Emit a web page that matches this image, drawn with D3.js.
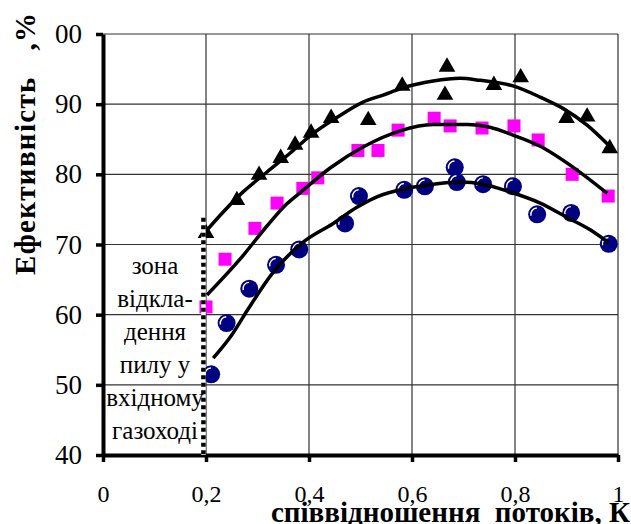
<!DOCTYPE html>
<html>
<head>
<meta charset="utf-8">
<script src="https://cdn.jsdelivr.net/npm/d3@7"></script>
</head>
<body style="margin:0">
<script>
var FONT = "Liberation Serif";

// ticks
var xTicks = [0, 0.2, 0.4, 0.6, 0.8, 1];
var xTickLabels = ["0", "0,2", "0,4", "0,6", "0,8", "1"];
var yTicks = [40, 50, 60, 70, 80, 90, 100];
var yTickLabels = ["40", "50", "60", "70", "80", "90", "00"];

// triangles (black)
var triX = [0.200, 0.260, 0.303, 0.345, 0.373, 0.404, 0.443, 0.515, 0.581, 0.668, 0.664, 0.759, 0.811, 0.900, 0.940, 0.984];
var triY = [71.6, 76.3, 79.9, 82.3, 84.2, 85.9, 88.0, 87.7, 92.6, 95.3, 91.3, 92.7, 93.8, 88.0, 88.2, 83.7];
// squares (magenta)
var sqX = [0.200, 0.237, 0.295, 0.338, 0.388, 0.417, 0.495, 0.534, 0.573, 0.643, 0.674, 0.736, 0.798, 0.845, 0.911, 0.981];
var sqY = [61.1, 67.9, 72.3, 75.9, 78.0, 79.5, 83.4, 83.4, 86.3, 88.0, 86.9, 86.6, 86.9, 84.9, 80.0, 76.9];
// circles (navy)
var circX = [0.210, 0.240, 0.284, 0.336, 0.381, 0.470, 0.497, 0.585, 0.625, 0.683, 0.687, 0.738, 0.796, 0.843, 0.909, 0.982];
var circY = [51.5, 58.8, 63.7, 67.1, 69.3, 73.0, 76.9, 77.8, 78.3, 81.0, 78.9, 78.6, 78.3, 74.3, 74.5, 70.1];

// trend lines
var triLineX = [0.200, 0.233, 0.272, 0.318, 0.363, 0.404, 0.454, 0.505, 0.544, 0.581, 0.641, 0.693, 0.732, 0.796, 0.849, 0.893, 0.940, 0.981];
var triLineY = [71.9, 74.6, 77.5, 80.3, 83.0, 85.6, 88.1, 90.3, 91.3, 92.3, 93.3, 93.7, 93.4, 92.6, 91.0, 89.4, 87.0, 84.2];
var sqLineX = [0.202, 0.266, 0.318, 0.357, 0.383, 0.441, 0.505, 0.577, 0.641, 0.707, 0.751, 0.796, 0.849, 0.913, 0.979];
var sqLineY = [62.8, 67.9, 72.6, 75.8, 77.4, 80.9, 83.9, 86.2, 87.1, 87.1, 86.7, 85.6, 84.0, 81.0, 77.3];
var circLineX = [0.214, 0.250, 0.280, 0.330, 0.388, 0.447, 0.493, 0.532, 0.590, 0.641, 0.693, 0.738, 0.790, 0.849, 0.900, 0.946, 0.981];
var circLineY = [53.8, 57.1, 60.6, 66.0, 70.3, 73.0, 75.3, 76.8, 78.0, 78.6, 78.9, 78.6, 77.5, 75.9, 73.9, 72.1, 70.3];

// zone boundary
var zoneX = 0.195;
var zoneTop = 73.8;
var zoneText = ["зона", "відкла-", "дення", "пилу у", "вхідному", "газоході"];

var margin = {top: 34, right: 13, bottom: 69, left: 103},
    width = 631 - margin.left - margin.right,
    height = 524 - margin.top - margin.bottom;

var svg = d3.select("body").append("svg")
    .attr("width", 631).attr("height", 524);
var g = svg.append("g")
    .attr("transform", "translate(" + margin.left + "," + margin.top + ")");

var x = d3.scaleLinear().domain([0, 1]).range([0, width]);
var y = d3.scaleLinear().domain([40, 100]).range([height, 0]);

// grid
g.append("g").selectAll("line").data(yTicks.slice(1)).enter().append("line")
    .attr("x1", 0).attr("x2", width)
    .attr("y1", d => y(d)).attr("y2", d => y(d))
    .attr("stroke", "#333").attr("stroke-width", 1.2);
g.append("g").selectAll("line").data(xTicks.slice(1)).enter().append("line")
    .attr("y1", 0).attr("y2", height)
    .attr("x1", d => x(d)).attr("x2", d => x(d))
    .attr("stroke", "#333").attr("stroke-width", 1.2);

// axes
var yAxis = g.append("g")
    .call(d3.axisLeft(y).tickValues(yTicks).tickFormat((d, i) => yTickLabels[i])
      .tickSize(7).tickSizeOuter(0).tickPadding(14));
var xAxis = g.append("g")
    .attr("transform", "translate(0," + height + ")")
    .call(d3.axisBottom(x).tickValues(xTicks).tickFormat((d, i) => xTickLabels[i])
      .tickSize(7).tickSizeOuter(0).tickPadding(23));
[yAxis, xAxis].forEach(function(a) {
  a.attr("font-family", null).attr("font-size", null);
  a.select(".domain").attr("stroke", "#000").attr("stroke-width", 4);
  a.selectAll(".tick line").attr("stroke", "#000").attr("stroke-width", 3.5);
  a.selectAll("text").style("font-family", FONT).attr("fill", "#000");
});
yAxis.selectAll("text").attr("font-size", 27);
xAxis.selectAll("text").attr("font-size", 24);

// markers
var triPts = triX.map((d, i) => [d, triY[i]]);
var sqPts = sqX.map((d, i) => [d, sqY[i]]);
var circPts = circX.map((d, i) => [d, circY[i]]);

g.append("g").selectAll("path").data(triPts).enter().append("path")
    .attr("d", d3.symbol().type(d3.symbolTriangle).size(120))
    .attr("transform", d => "translate(" + x(d[0]) + "," + y(d[1]) + ")")
    .attr("fill", "#000");

g.append("g").selectAll("rect").data(sqPts).enter().append("rect")
    .attr("x", d => x(d[0]) - 6.5).attr("y", d => y(d[1]) - 6.5)
    .attr("width", 13).attr("height", 13)
    .attr("fill", "#ff00ff");

var circG = g.append("g").selectAll("g").data(circPts).enter().append("g")
    .attr("transform", d => "translate(" + x(d[0]) + "," + y(d[1]) + ")");
circG.append("circle").attr("r", 9).attr("fill", "#000080");
circG.append("path")
    .attr("d", d3.arc().innerRadius(5.6).outerRadius(7).startAngle(-1.8).endAngle(-0.05))
    .attr("fill", "#fff");

// trend lines
var line = d3.line().x(d => x(d[0])).y(d => y(d[1])).curve(d3.curveMonotoneX);
[[triLineX, triLineY], [sqLineX, sqLineY], [circLineX, circLineY]].forEach(function(s) {
  g.append("path")
    .datum(s[0].map((d, i) => [d, s[1][i]]))
    .attr("d", line)
    .attr("fill", "none")
    .attr("stroke", "#000")
    .attr("stroke-width", 3.5)
    .attr("stroke-linejoin", "round");
});

// zone boundary
g.append("line")
    .attr("x1", x(zoneX)).attr("x2", x(zoneX))
    .attr("y1", y(zoneTop)).attr("y2", height)
    .attr("stroke", "#fff").attr("stroke-width", 4.5);
g.append("line")
    .attr("x1", x(zoneX)).attr("x2", x(zoneX))
    .attr("y1", y(zoneTop)).attr("y2", height)
    .attr("stroke", "#000").attr("stroke-width", 4.5)
    .attr("stroke-dasharray", "4,3.5");

g.append("g").selectAll("text").data(zoneText).enter().append("text")
    .attr("x", x(0.101))
    .attr("y", (d, i) => 240 + i * 33)
    .attr("text-anchor", "middle")
    .attr("font-size", 25)
    .style("font-family", FONT)
    .text(d => d);

// axis titles
svg.append("text")
    .attr("transform", "translate(35,275) rotate(-90)")
    .attr("font-size", 29)
    .attr("font-weight", "bold")
    .attr("textLength", 262)
    .attr("lengthAdjust", "spacing")
    .style("font-family", FONT)
    .text("Ефективність\u00a0\u00a0\u00a0,%");

svg.append("text")
    .attr("x", 630).attr("y", 522)
    .attr("text-anchor", "end")
    .attr("font-size", 29)
    .attr("font-weight", "bold")
    .style("font-family", FONT)
    .text("співвідношення\u00a0\u00a0потоків, К");
</script>
</body>
</html>
